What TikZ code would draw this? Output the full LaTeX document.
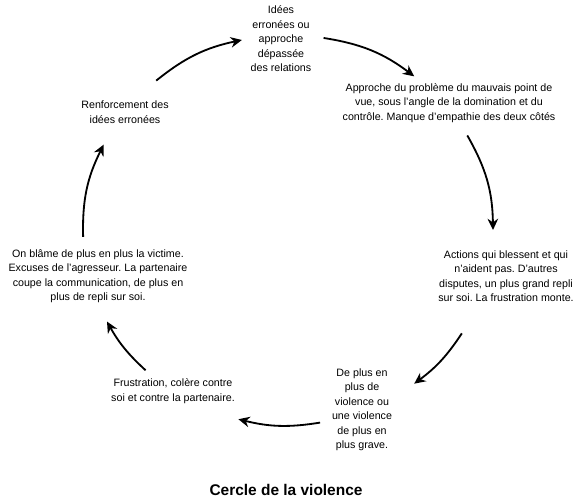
\documentclass[tikz,border=0pt]{standalone}
\usepackage{fontspec}
\setmainfont{Liberation Sans}
\frenchspacing
\usetikzlibrary{positioning,arrows.meta,calc}

\begin{document}
\begin{tikzpicture}[
  every node/.style={font=\fontsize{7.6}{10.3}\selectfont},
  stage/.style={align=center, inner sep=0pt, text=black},
  caption/.style={font=\bfseries\fontsize{11}{13}\selectfont, inner sep=0pt},
  cyc/.style={-{Stealth[length=8pt,width=7.5pt]}, line width=1.3pt}
]
  \useasboundingbox (0,0) rectangle (14.5,-12.525);
  \coordinate (ctr) at (7.2,-5.75);

  \node[stage] (ideas)   at (7.025,-0.975) {Idées\\erronées ou\\approche\\dépassée\\des relations};
  \node[stage] (view)    at (11.225,-2.575) {Approche du problème du mauvais point de\\vue, sous l’angle de la domination et du\\contrôle. Manque d’empathie des deux côtés};
  \node[stage] (hurt)    at (12.65,-6.9) {Actions qui blessent et qui\\n’aident pas. D’autres\\disputes, un plus grand repli\\sur soi. La frustration monte.};
  \node[stage] (worse)   at (9.05,-10.24) {De plus en\\plus de\\violence ou\\une violence\\de plus en\\plus grave.};
  \node[stage] (anger)   at (4.325,-9.775) {Frustration, colère contre\\soi et contre la partenaire.};
  \node[stage] (blame)   at (2.45,-6.9) {On blâme de plus en plus la victime.\\Excuses de l’agresseur. La partenaire\\coupe la communication, de plus en\\plus de repli sur soi.};
  \node[stage] (reinf)   at (3.125,-2.8) {Renforcement des\\idées erronées};

  \node[caption] (title) at (7.15,-12.25) {Cercle de la violence};

  % arrows round the circle, clockwise
  \foreach \a/\b [count=\i] in {130/103, 80/52, 29/0, -32/-52, -81/-104, -134/-152, 182/154} {
    \pgfmathsetmacro\bnd{(\a-\b)/2}
    \path (ctr) ++(\a:5.125 and 4.875) coordinate (s\i);
    \path (ctr) ++(\b:5.125 and 4.875) coordinate (e\i);
    \draw[cyc] (s\i) to[bend left=\bnd] (e\i);
  }
\end{tikzpicture}
\end{document}
